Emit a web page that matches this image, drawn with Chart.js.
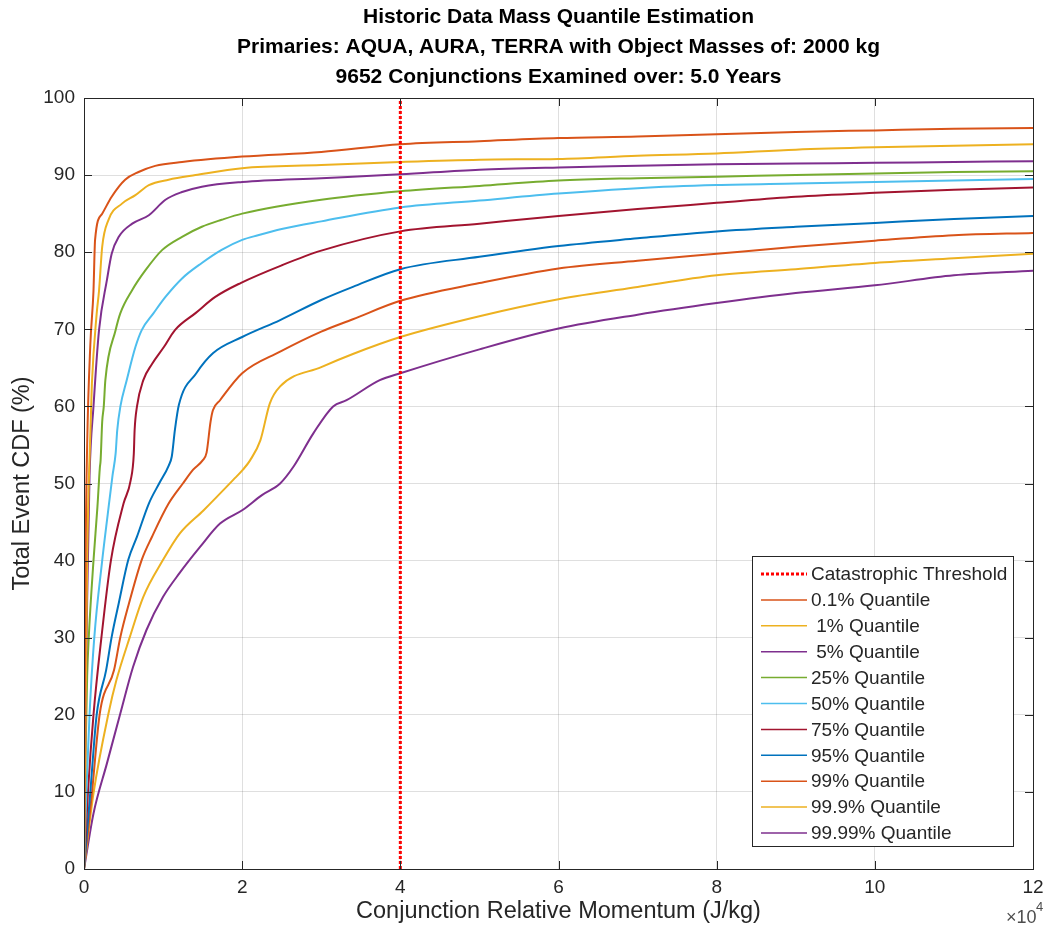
<!DOCTYPE html>
<html>
<head>
<meta charset="utf-8">
<script src="https://cdn.jsdelivr.net/npm/chart.js@4.4.1/dist/chart.umd.min.js"></script>
<style>
  html, body { margin: 0; padding: 0; background: #fff; }
  #wrap { width: 1051px; height: 938px; }
</style>
</head>
<body>
<div id="wrap"><canvas id="lineChart"></canvas></div>
<script>
// x values are in units of 1e4 J/kg, y values in %
var thresholdX = 4;

var q0_1X = [0, 0.01, 0.02, 0.04, 0.08, 0.12, 0.14, 0.23, 0.35, 0.52, 0.69, 0.9, 1.24, 2, 3, 4, 5, 6, 7, 8, 9, 10, 11, 12];
var q0_1Y = [0, 20, 40, 55, 68, 75, 81.6, 85, 87.2, 89.4, 90.4, 91.2, 91.7, 92.4, 93.0, 94.0, 94.4, 94.8, 95.0, 95.3, 95.6, 95.8, 96.0, 96.1];

var q1X = [0, 0.02, 0.04, 0.06, 0.1, 0.16, 0.19, 0.23, 0.31, 0.48, 0.65, 0.82, 1.07, 1.41, 2, 3, 4, 5, 6, 7, 8, 9, 10, 11, 12];
var q1Y = [0, 20, 40, 50, 63, 72, 75, 80.7, 84.2, 86.3, 87.4, 88.7, 89.4, 90, 90.9, 91.3, 91.7, 92.0, 92.1, 92.5, 92.8, 93.3, 93.6, 93.8, 94.0];

var q5X = [0, 0.02, 0.04, 0.07, 0.12, 0.19, 0.29, 0.35, 0.44, 0.61, 0.82, 1.03, 1.24, 1.49, 2, 3, 4, 5, 6, 7, 8, 9, 10, 11, 12];
var q5Y = [0, 20, 35, 51, 60, 69.9, 76.4, 79.8, 82, 83.7, 84.8, 86.8, 87.8, 88.5, 89.1, 89.6, 90.1, 90.7, 91.0, 91.2, 91.4, 91.5, 91.6, 91.7, 91.8];

var q25X = [0, 0.02, 0.04, 0.06, 0.12, 0.17, 0.2, 0.21, 0.23, 0.25, 0.27, 0.4, 0.46, 0.61, 0.78, 0.99, 1.24, 1.49, 1.74, 2, 3, 4, 5, 6, 7, 8, 9, 10, 11, 12];
var q25Y = [0, 15, 25, 30, 40, 47, 52, 53, 58, 60, 63.4, 69.9, 72.1, 75.1, 77.7, 80.3, 82, 83.3, 84.2, 85, 86.8, 87.9, 88.6, 89.3, 89.6, 89.8, 90.0, 90.2, 90.4, 90.5];

var q50X = [0, 0.03, 0.07, 0.13, 0.23, 0.3, 0.36, 0.4, 0.42, 0.46, 0.54, 0.65, 0.73, 0.88, 1.03, 1.24, 1.49, 1.74, 2, 2.2, 2.5, 3, 4, 5, 6, 7, 8, 9, 10, 11, 12];
var q50Y = [0, 10, 20, 30, 40, 46, 51, 53.9, 56.9, 60, 63.4, 67.7, 69.9, 72.1, 74.2, 76.6, 78.6, 80.3, 81.6, 82.2, 83.0, 84.0, 85.8, 86.7, 87.6, 88.3, 88.7, 88.9, 89.1, 89.3, 89.5];

var q75X = [0, 0.05, 0.12, 0.22, 0.34, 0.5, 0.59, 0.63, 0.64, 0.67, 0.75, 0.86, 1.01, 1.15, 1.41, 1.66, 1.98, 2.5, 3, 4, 5, 6, 7, 8, 9, 10, 11, 12];
var q75Y = [0, 10, 20, 30, 40, 47.4, 50.4, 53.9, 56.9, 60, 63.4, 65.5, 67.7, 69.9, 72.1, 74.2, 76, 78.3, 80.2, 82.7, 83.7, 84.7, 85.6, 86.4, 87.2, 87.7, 88.1, 88.4];

var q95X = [0, 0.08, 0.16, 0.28, 0.35, 0.44, 0.56, 0.67, 0.82, 0.95, 1.07, 1.11, 1.15, 1.2, 1.42, 1.63, 2, 2.48, 3, 3.4, 4, 5, 6, 7, 8, 9, 10, 11, 12];
var q95Y = [0, 10, 20, 25.8, 30.1, 34.5, 40.1, 43.1, 47.4, 50, 52.3, 53.5, 57, 60.2, 64.3, 66.9, 69, 71.2, 73.8, 75.5, 77.8, 79.4, 80.8, 81.8, 82.7, 83.3, 83.8, 84.3, 84.7];

var q99X = [0, 0.1, 0.2, 0.38, 0.46, 0.57, 0.73, 0.86, 1.07, 1.25, 1.38, 1.5, 1.55, 1.6, 1.63, 1.72, 2, 2.48, 3, 3.4, 4, 5, 6, 7, 8, 9, 10, 11, 12];
var q99Y = [0, 9.8, 20.2, 25.8, 30.1, 34.5, 40.1, 43.1, 47.4, 50, 51.8, 53, 54, 58, 59.5, 60.8, 64.3, 67.1, 69.7, 71.3, 73.7, 76.0, 77.9, 78.9, 79.8, 80.7, 81.5, 82.2, 82.5];

var q99_9X = [0, 0.12, 0.31, 0.41, 0.58, 0.75, 1.0, 1.21, 1.51, 1.89, 2.01, 2.1, 2.23, 2.35, 2.48, 3, 3.4, 4, 5, 6, 7, 8, 9, 10, 11, 12];
var q99_9Y = [0, 9.8, 20.2, 24.5, 30.1, 35.3, 40.1, 43.5, 46.5, 50.5, 51.8, 53, 55.6, 60.4, 62.6, 65.1, 66.8, 69.0, 71.7, 73.9, 75.5, 77.0, 77.8, 78.6, 79.2, 79.8];

var q99_99X = [0, 0.12, 0.29, 0.46, 0.62, 0.79, 1.0, 1.21, 1.47, 1.72, 2.01, 2.25, 2.48, 2.65, 2.9, 3.15, 3.32, 3.74, 4, 5, 6, 7, 8, 9, 10, 11, 12];
var q99_99Y = [0, 7.2, 13.7, 20.2, 26.2, 31, 35.3, 38.4, 41.8, 44.8, 46.6, 48.5, 50, 52.2, 56.5, 60, 60.8, 63.4, 64.3, 67.4, 70.1, 71.9, 73.4, 74.7, 75.7, 77.0, 77.6];

var seriesLabels = ["0.1% Quantile", " 1% Quantile", " 5% Quantile", "25% Quantile", "50% Quantile",
                    "75% Quantile", "95% Quantile", "99% Quantile", "99.9% Quantile", "99.99% Quantile"];
var seriesX = [q0_1X, q1X, q5X, q25X, q50X, q75X, q95X, q99X, q99_9X, q99_99X];
var seriesY = [q0_1Y, q1Y, q5Y, q25Y, q50Y, q75Y, q95Y, q99Y, q99_9Y, q99_99Y];
var seriesColors = ["#D95319", "#EDB120", "#7E2F8E", "#77AC30", "#4DBEEE",
                    "#A2142F", "#0072BD", "#D95319", "#EDB120", "#7E2F8E"];

var axisColor = "#262626";
var fontFam = "'Liberation Sans', Arial, Helvetica, sans-serif";

function toPoints(xs, ys) {
    var pts = [];
    for (var i = 0; i < xs.length; i++) pts.push({x: xs[i], y: ys[i]});
    return pts;
}

var datasets = [{
    label: "Catastrophic Threshold",
    data: [{x: thresholdX, y: 0}, {x: thresholdX, y: 100}],
    borderColor: "#ff0000",
    borderWidth: 3,
    borderDash: [3, 2],
    pointRadius: 0,
    fill: false
}];
for (var i = 0; i < seriesLabels.length; i++) {
    datasets.push({
        label: seriesLabels[i],
        data: toPoints(seriesX[i], seriesY[i]),
        borderColor: seriesColors[i],
        borderWidth: 2,
        pointRadius: 0,
        fill: false,
        cubicInterpolationMode: 'monotone'
    });
}

// matlab style box, inward ticks, legend in the lower right, x10^4 exponent
var matlabAxes = {
    id: 'matlabAxes',
    afterDatasetsDraw: function(chart) {
        var ctx = chart.ctx, a = chart.chartArea;
        var xs = chart.scales.x, ys = chart.scales.y;
        ctx.save();
        ctx.strokeStyle = axisColor;
        ctx.lineWidth = 1;
        ctx.beginPath();
        var tl = 8;
        xs.ticks.forEach(function(t) {
            var px = Math.round(xs.getPixelForValue(t.value)) + 0.5;
            ctx.moveTo(px, a.bottom); ctx.lineTo(px, a.bottom - tl);
            ctx.moveTo(px, a.top); ctx.lineTo(px, a.top + tl);
        });
        ys.ticks.forEach(function(t) {
            var py = Math.round(ys.getPixelForValue(t.value)) + 0.5;
            ctx.moveTo(a.left, py); ctx.lineTo(a.left + tl, py);
            ctx.moveTo(a.right, py); ctx.lineTo(a.right - tl, py);
        });
        ctx.stroke();
        ctx.strokeRect(Math.round(a.left) + 0.5, Math.round(a.top) + 0.5,
                       Math.round(a.right - a.left), Math.round(a.bottom - a.top));
        ctx.restore();
    },
    afterDraw: function(chart) {
        var ctx = chart.ctx;
        ctx.save();
        // legend
        var bx = 752.5, by = 556.5, bw = 261, bh = 290, rowH = 25.9;
        ctx.fillStyle = "#fff";
        ctx.fillRect(bx, by, bw, bh);
        ctx.strokeStyle = axisColor;
        ctx.lineWidth = 1;
        ctx.strokeRect(bx, by, bw, bh);
        ctx.font = "19px " + fontFam;
        ctx.textBaseline = "middle";
        ctx.textAlign = "left";
        chart.data.datasets.forEach(function(ds, k) {
            var cy = 574 + k * rowH;
            ctx.strokeStyle = ds.borderColor;
            ctx.lineWidth = k === 0 ? 3 : 1.5;
            ctx.setLineDash(ds.borderDash || []);
            ctx.beginPath();
            ctx.moveTo(761, cy);
            ctx.lineTo(807, cy);
            ctx.stroke();
            ctx.setLineDash([]);
            ctx.fillStyle = axisColor;
            ctx.fillText(ds.label, 811, cy + 1);
        });
        // exponent label
        ctx.fillStyle = "#4d4d4d";
        ctx.font = "18px " + fontFam;
        ctx.fillText("\u00d710", 1006, 918);
        ctx.font = "13px " + fontFam;
        ctx.fillText("4", 1036, 907);
        ctx.restore();
    }
};

var ctx = document.getElementById("lineChart");
var lineChart = new Chart(ctx, {
    type: 'line',
    data: { datasets: datasets },
    plugins: [matlabAxes],
    options: {
        responsive: true,
        maintainAspectRatio: false,
        animation: false,
        parsing: false,
        layout: { padding: { left: 0, right: 18, top: 0, bottom: 0 } },
        plugins: {
            legend: { display: false },
            tooltip: { enabled: false },
            title: {
                display: true,
                fullSize: false,
                text: ["Historic Data Mass Quantile Estimation",
                       "Primaries: AQUA, AURA, TERRA with Object Masses of: 2000 kg",
                       "9652 Conjunctions Examined over: 5.0 Years"],
                color: "#000",
                font: { family: fontFam, size: 21, weight: 'bold', lineHeight: 30 / 21 },
                padding: { top: 2.5, bottom: 5.5 }
            }
        },
        scales: {
            x: {
                type: 'linear',
                min: 0,
                max: 12,
                ticks: {
                    stepSize: 2,
                    color: axisColor,
                    font: { family: fontFam, size: 19 },
                    padding: 7,
                    maxRotation: 0
                },
                grid: { color: "rgba(38,38,38,0.15)", drawTicks: false },
                border: { display: false },
                title: {
                    display: true,
                    text: "Conjunction Relative Momentum (J/kg)",
                    color: axisColor,
                    font: { family: fontFam, size: 23.5 },
                    padding: { top: 0, bottom: 12 }
                },
                afterFit: function(scale) { scale.height = 69; }
            },
            y: {
                type: 'linear',
                min: 0,
                max: 100,
                ticks: {
                    stepSize: 10,
                    color: axisColor,
                    font: { family: fontFam, size: 19 },
                    padding: 9
                },
                grid: { color: "rgba(38,38,38,0.15)", drawTicks: false },
                border: { display: false },
                title: {
                    display: true,
                    text: "Total Event CDF (%)",
                    color: axisColor,
                    font: { family: fontFam, size: 23.5 },
                    padding: { top: 8, bottom: 0 }
                },
                afterFit: function(scale) { scale.width = 84; }
            }
        }
    }
});
</script>
</body>
</html>
